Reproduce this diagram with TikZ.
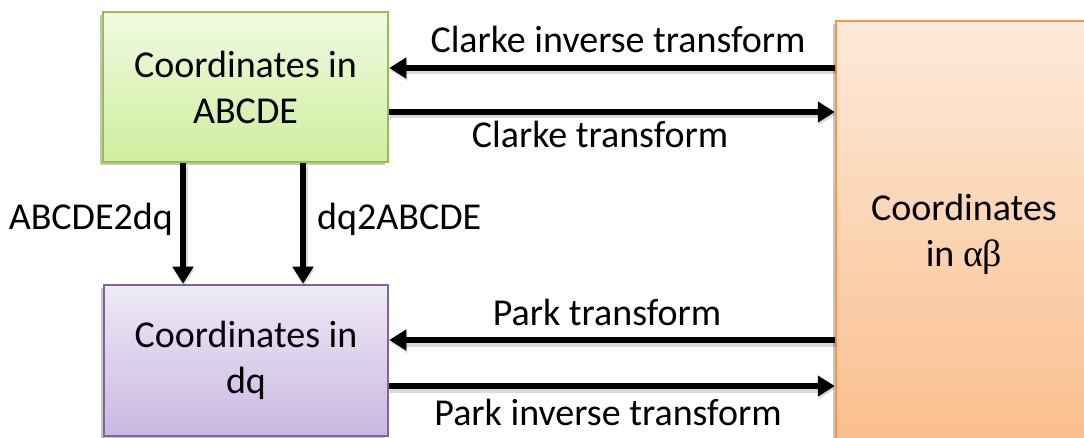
\documentclass[tikz,border=0pt]{standalone}
\usepackage{fontspec}
\setmainfont{Carlito}
\newfontfamily\greekfont{Liberation Serif}
\usetikzlibrary{arrows.meta,shadows}

\definecolor{grnTop}{RGB}{241,250,226}
\definecolor{grnBot}{RGB}{206,238,158}
\definecolor{grnLine}{RGB}{155,187,89}
\definecolor{purTop}{RGB}{238,234,246}
\definecolor{purBot}{RGB}{200,184,226}
\definecolor{purLine}{RGB}{128,100,162}
\definecolor{orgTop}{RGB}{253,234,218}
\definecolor{orgBot}{RGB}{250,190,140}
\definecolor{orgLine}{RGB}{247,150,70}

\begin{document}
\begin{tikzpicture}[x=1pt,y=-1pt,
  every node/.style={font=\fontsize{38}{46}\selectfont},
  coordbox/.style={draw, line width=2.5pt, align=center, inner sep=0pt,
    drop shadow={shadow xshift=-3pt, shadow yshift=-3pt, opacity=0.22, fill=black}},
  greenbox/.style={coordbox, draw=grnLine, top color=grnTop, bottom color=grnBot},
  purplebox/.style={coordbox, draw=purLine, top color=purTop, bottom color=purBot},
  orangebox/.style={coordbox, draw=orgLine, top color=orgTop, bottom color=orgBot},
  arr/.style={line width=6pt, -{Triangle[length=17pt,width=20pt]},
    preaction={draw=black, opacity=0.15, line width=8pt, transform canvas={xshift=1pt,yshift=-2.5pt}}},
  lbl/.style={inner sep=0pt}
]
\useasboundingbox (0,0) rectangle (1084,438);
\clip (0,0) rectangle (1084,438);

% coordinate systems
\node[greenbox, minimum width=285pt, minimum height=150pt] (A) at (245.5,87) {Coordinates in\\ABCDE};
\node[purplebox, minimum width=284pt, minimum height=151pt] (D) at (246,360.5) {Coordinates in\\dq};
\node[orangebox, minimum width=256pt, minimum height=426pt] (O) at (964,234) {Coordinates\\in {\greekfont αβ}};

% heights and columns of the connectors
\coordinate (yci) at (0,68);
\coordinate (yc)  at (0,112);
\coordinate (yp)  at (0,340);
\coordinate (ypi) at (0,386);
\coordinate (xl)  at (183,0);
\coordinate (xr)  at (303,0);

% transforms
\draw[arr] (O.west |- yci) -- (A.east |- yci);
\draw[arr] (A.east |- yc)  -- (O.west |- yc);
\draw[arr] (O.west |- yp)  -- (D.east |- yp);
\draw[arr] (D.east |- ypi) -- (O.west |- ypi);
\draw[arr] (A.south -| xl) -- (D.north -| xl);
\draw[arr] (A.south -| xr) -- (D.north -| xr);

% labels
\node[lbl, anchor=base] (tci) at (618,53) {Clarke inverse transform};
\node[lbl, anchor=base] (tc)  at (600,148) {Clarke transform};
\node[lbl, anchor=base] (tp)  at (607,325) {Park transform};
\node[lbl, anchor=base] (tpi) at (608,425) {Park inverse transform};
\node[lbl, anchor=base east] (tad) at (173,230) {ABCDE2dq};
\node[lbl, anchor=base west] (tda) at (317,230) {dq2ABCDE};
\end{tikzpicture}
\end{document}
